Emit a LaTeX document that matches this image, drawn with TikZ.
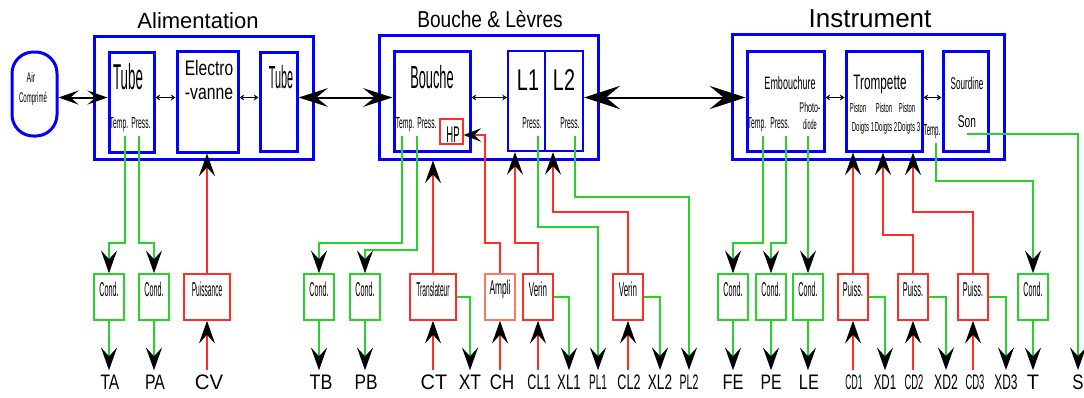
\documentclass[tikz,border=0pt]{standalone}
\usepackage{fontspec}
\setmainfont{Liberation Sans}
\usepackage{graphicx}
\usetikzlibrary{arrows.meta,fit}

\definecolor{bbox}{RGB}{0,0,255}
\definecolor{gline}{RGB}{40,210,40}
\definecolor{rline}{RGB}{255,45,35}
\definecolor{salmon}{RGB}{255,120,100}

% size, horizontal squeeze, text
\newcommand\sqz[3]{{\fontsize{#1}{#1}\selectfont\scalebox{#2}[1]{#3}}}

\tikzset{
  outerbox/.style={draw=bbox, line width=2.25pt, inner sep=0pt},
  innerbox/.style={draw=bbox, line width=2.25pt, inner sep=0pt},
  thinbox/.style={draw=bbox, line width=1.6pt, inner sep=0pt},
  gbox/.style={draw=gline, line width=1.2pt, inner sep=0pt},
  rbox/.style={draw=rline, line width=1.2pt, inner sep=0pt},
  txt/.style={anchor=base, inner sep=0pt},
  lbl/.style={anchor=base, inner sep=3pt},
  vtip/.style={-{Stealth[length=17pt,width=12pt,inset=6.5pt,color=black]}},
  htip/.style={-{Stealth[length=13pt,width=10pt,inset=5pt,color=black]}},
  gwire/.style={draw=gline, line width=1.3pt},
  rwire/.style={draw=rline, line width=1.3pt},
  tinyarrow/.style={line width=0.7pt, {Stealth[open,length=3.5pt,width=4.5pt]}-{Stealth[open,length=3.5pt,width=4.5pt]}},
  bigA/.style={line width=1.5pt, {Stealth[length=15pt,width=10.5pt,inset=6pt]}-{Stealth[length=15pt,width=10.5pt,inset=6pt]}},
  bigB/.style={line width=1.5pt, {Stealth[length=22pt,width=14pt,inset=8.5pt]}-{Stealth[length=22pt,width=14pt,inset=8.5pt]}},
  bigC/.style={line width=1.5pt, {Stealth[length=27pt,width=17.5pt,inset=10.5pt]}-{Stealth[length=27pt,width=17.5pt,inset=10.5pt]}},
}

\begin{document}
\begin{tikzpicture}[x=0.75pt,y=-0.75pt]
\fill[white] (0,0) rectangle (1084,397);
\useasboundingbox (0,0) rectangle (1084,397);
\coordinate (row) at (0,97.5);

% ---- titles
\node[txt] (tAlim) at (198,28) {\sqz{16.5pt}{1}{Alimentation}};
\node[txt] (tBouche) at (490,27) {\sqz{17.25pt}{0.83}{Bouche \& Lèvres}};
\node[txt] (tInstr) at (870,27) {\sqz{19.5pt}{1}{Instrument}};

% ---- groups
\node[outerbox, fit={(94,36) (313,159)}] (alim) {};
\node[outerbox, fit={(379,35) (598,159)}] (levres) {};
\node[outerbox, fit={(732,34) (1004,159)}] (instr) {};

% ---- Alimentation
\node[draw=bbox, line width=2.25pt, rounded corners=16pt, inner sep=0pt, fit={(12,52) (57,136)}] (air) {};
\node[txt] (airL1) at (31,82) {\sqz{10.5pt}{0.5}{Air}};
\node[txt] (airL2) at (33,102) {\sqz{10.5pt}{0.43}{Comprimé}};

\node[innerbox, fit={(109,52) (154,152)}] (tubeA) {};
\node[txt] (tubeAlbl) at (128,89) {\sqz{27pt}{0.37}{Tube}};
\node[txt] (tubeAT) at (119,128) {\sqz{12pt}{0.42}{Temp.}};
\node[txt] (tubeAP) at (141,128) {\sqz{12pt}{0.42}{Press.}};

\node[innerbox, fit={(177,51) (238,152)}] (ev) {};
\node[txt] (evL1) at (209,75) {\sqz{15.75pt}{0.74}{Electro}};
\node[txt] (evL2) at (209,99) {\sqz{15.75pt}{0.75}{-vanne}};

\node[innerbox, fit={(260,52) (297,151)}] (tubeB) {};
\node[txt] (tubeBlbl) at (281,88) {\sqz{24pt}{0.34}{Tube}};

% ---- Bouche & Lèvres
\node[innerbox, fit={(394,51) (470,151)}] (bouche) {};
\node[txt] (boucheLbl) at (432,88) {\sqz{24pt}{0.4}{Bouche}};
\node[txt] (boucheT) at (405,128) {\sqz{12pt}{0.42}{Temp.}};
\node[txt] (boucheP) at (427,128) {\sqz{12pt}{0.42}{Press.}};
\node[rbox, line width=0.9pt, fit={(440,119) (463,144)}] (hp) {};
\node[txt] (hpLbl) at (453,142) {\sqz{17pt}{0.42}{HP}};

\node[thinbox, fit={(508,51) (545,151)}] (l1) {};
\node[thinbox, fit={(545,51) (583,151)}] (l2) {};
\node[txt] (l1Lbl) at (528,90) {\sqz{22.5pt}{0.66}{L1}};
\node[txt] (l2Lbl) at (564,90) {\sqz{22.5pt}{0.66}{L2}};
\node[txt] (l1P) at (532,128) {\sqz{12pt}{0.42}{Press.}};
\node[txt] (l2P) at (570,128) {\sqz{12pt}{0.42}{Press.}};

% ---- Instrument
\node[innerbox, fit={(747,51) (824,151)}] (emb) {};
\node[txt] (embLbl) at (790,89) {\sqz{13.5pt}{0.5}{Embouchure}};
\node[txt] (embT) at (757,128) {\sqz{12pt}{0.42}{Temp.}};
\node[txt] (embP) at (780,128) {\sqz{12pt}{0.42}{Press.}};
\node[txt] (embPh1) at (810,112) {\sqz{10.5pt}{0.51}{Photo-}};
\node[txt] (embPh2) at (810,129) {\sqz{10.5pt}{0.4}{diode}};

\node[innerbox, fit={(846,51) (922,151)}] (tromp) {};
\node[txt] (trLbl) at (880,89) {\sqz{15.75pt}{0.56}{Trompette}};
\node[txt] (pis1) at (858,112) {\sqz{9.75pt}{0.45}{Piston}};
\node[txt] (pis2) at (884,112) {\sqz{9.75pt}{0.45}{Piston}};
\node[txt] (pis3) at (907,112) {\sqz{9.75pt}{0.45}{Piston}};
\node[txt] (dg1) at (863,131) {\sqz{9.75pt}{0.47}{Doigts 1}};
\node[txt] (dg2) at (886,131) {\sqz{9.75pt}{0.47}{Doigts 2}};
\node[txt] (dg3) at (909,131) {\sqz{9.75pt}{0.47}{Doigts 3}};
\node[txt] (tempS) at (932,135) {\sqz{12pt}{0.38}{Temp.}};

\node[innerbox, fit={(943,51) (988,151)}] (sourd) {};
\node[txt] (sLbl) at (967,89) {\sqz{12.75pt}{0.48}{Sourdine}};
\node[txt] (sonLbl) at (967,127) {\sqz{12.75pt}{0.6}{Son}};

% ---- links between blocks
\draw[bigA] (air.east |- row) -- (tubeA.west |- row);
\draw[tinyarrow] (tubeA.east |- row) -- (ev.west |- row);
\draw[tinyarrow] (ev.east |- row) -- (tubeB.west |- row);
\draw[bigB] (tubeB.east |- row) -- (bouche.west |- row);
\draw[tinyarrow] (bouche.east |- row) -- (l1.west |- row);
\draw[bigC] (l2.east |- row) -- (emb.west |- row);
\draw[tinyarrow] (emb.east |- row) -- (tromp.west |- row);
\draw[tinyarrow] (tromp.east |- row) -- (sourd.west |- row);

% ---- interface boxes
\node[gbox, fit={(94,274) (124,320)}] (cTA) {\sqz{15pt}{0.36}{Cond.}};
\node[gbox, fit={(139,274) (169,320)}] (cPA) {\sqz{15pt}{0.36}{Cond.}};
\node[rbox, fit={(184,274) (230,320)}] (puis) {\sqz{15pt}{0.33}{Puissance}};
\node[gbox, fit={(304,274) (334,320)}] (cTB) {\sqz{15pt}{0.36}{Cond.}};
\node[gbox, fit={(350,274) (380,320)}] (cPB) {\sqz{15pt}{0.36}{Cond.}};
\node[rbox, fit={(410,274) (456,320)}] (trans) {\sqz{15pt}{0.33}{Translateur}};
\node[rbox, draw=salmon, fit={(485,274) (515,320)}] (ampli) {\sqz{15pt}{0.42}{Ampli}};
\node[rbox, fit={(523,274) (553,320)}] (ver1) {\sqz{15pt}{0.4}{Verin}};
\node[rbox, fit={(613,274) (643,320)}] (ver2) {\sqz{15pt}{0.4}{Verin}};
\node[gbox, fit={(718,274) (748,320)}] (cFE) {\sqz{15pt}{0.36}{Cond.}};
\node[gbox, fit={(756,274) (786,320)}] (cPE) {\sqz{15pt}{0.36}{Cond.}};
\node[gbox, fit={(793,274) (823,320)}] (cLE) {\sqz{15pt}{0.36}{Cond.}};
\node[rbox, fit={(838,274) (868,320)}] (pu1) {\sqz{15pt}{0.37}{Puiss.}};
\node[rbox, fit={(898,274) (928,320)}] (pu2) {\sqz{15pt}{0.37}{Puiss.}};
\node[rbox, fit={(958,274) (988,320)}] (pu3) {\sqz{15pt}{0.37}{Puiss.}};
\node[gbox, fit={(1018,274) (1048,320)}] (cT) {\sqz{15pt}{0.36}{Cond.}};

% ---- signal names
\node[lbl] (TA) at (110,389) {\sqz{15.75pt}{0.74}{TA}};
\node[lbl] (PA) at (155,389) {\sqz{15.75pt}{0.75}{PA}};
\node[lbl] (CV) at (209,389) {\sqz{15.75pt}{0.97}{CV}};
\node[lbl] (TB) at (321,389) {\sqz{15.75pt}{0.85}{TB}};
\node[lbl] (PB) at (366,389) {\sqz{15.75pt}{0.82}{PB}};
\node[lbl] (CT) at (434,389) {\sqz{15.75pt}{0.95}{CT}};
\node[lbl] (XT) at (470,389) {\sqz{15.75pt}{0.83}{XT}};
\node[lbl] (CH) at (502,389) {\sqz{15.75pt}{0.8}{CH}};
\node[lbl] (CL1) at (539,389) {\sqz{15.75pt}{0.6}{CL1}};
\node[lbl] (XL1) at (569,389) {\sqz{15.75pt}{0.63}{XL1}};
\node[lbl] (PL1) at (598,389) {\sqz{15.75pt}{0.48}{PL1}};
\node[lbl] (CL2) at (629,389) {\sqz{15.75pt}{0.6}{CL2}};
\node[lbl] (XL2) at (660,389) {\sqz{15.75pt}{0.65}{XL2}};
\node[lbl] (PL2) at (689,389) {\sqz{15.75pt}{0.5}{PL2}};
\node[lbl] (FE) at (733,389) {\sqz{15.75pt}{0.78}{FE}};
\node[lbl] (PE) at (771,389) {\sqz{15.75pt}{0.75}{PE}};
\node[lbl] (LE) at (809,389) {\sqz{15.75pt}{0.78}{LE}};
\node[lbl] (CD1) at (854,389) {\sqz{15.75pt}{0.41}{CD1}};
\node[lbl] (XD1) at (885,389) {\sqz{15.75pt}{0.55}{XD1}};
\node[lbl] (CD2) at (914,389) {\sqz{15.75pt}{0.45}{CD2}};
\node[lbl] (XD2) at (946,389) {\sqz{15.75pt}{0.58}{XD2}};
\node[lbl] (CD3) at (975,389) {\sqz{15.75pt}{0.45}{CD3}};
\node[lbl] (XD3) at (1006,389) {\sqz{15.75pt}{0.57}{XD3}};
\node[lbl] (T) at (1033,389) {\sqz{15.75pt}{0.95}{T}};
\node[lbl] (S) at (1078,389) {\sqz{15.75pt}{0.8}{S}};

% ---- sensor taps
\coordinate (sTA) at (125,136);
\coordinate (sPA) at (139,136);
\coordinate (sTB) at (402,136);
\coordinate (sPB) at (417,136);
\coordinate (sPL1) at (538,136);
\coordinate (sPL2) at (575,136);
\coordinate (sFE) at (763,136);
\coordinate (sPE) at (786,136);
\coordinate (sLE) at (808,136);
\coordinate (sT) at (936,143);
\coordinate (sS) at (967,134);

\draw[gwire, vtip] (sTA) -- (sTA |- 0,243) -| (cTA.north);
\draw[gwire, vtip] (sPA) -- (sPA |- 0,243) -| (cPA.north);
\draw[gwire, vtip] (sTB) -- (sTB |- 0,243) -| (cTB.north);
\draw[gwire, vtip] (sPB) -- (sPB |- 0,250) -| (cPB.north);
\draw[gwire, vtip] (sPL1) -- (sPL1 |- 0,227) -| (PL1.north);
\draw[gwire, vtip] (sPL2) -- (sPL2 |- 0,197) -| (PL2.north);
\draw[gwire, vtip] (sFE) -- (sFE |- 0,243) -| (cFE.north);
\draw[gwire, vtip] (sPE) -- (sPE |- 0,243) -| (cPE.north);
\draw[gwire, vtip] (sLE) -- (sLE |- cLE.north);
\draw[gwire, vtip] (sT) -- (sT |- 0,181) -| (cT.north);
\draw[gwire, vtip] (sS) -| (S.north);

% ---- conditioner outputs
\foreach \b/\l in {cTA/TA, cPA/PA, cTB/TB, cPB/PB, cFE/FE, cPE/PE, cLE/LE, cT/T}
  \draw[gwire, vtip] (\b.south) -- (\b.south |- \l.north);

% ---- actuator position outputs
\foreach \b/\l in {trans/XT, ver1/XL1, ver2/XL2, pu1/XD1, pu2/XD2, pu3/XD3}
  \draw[gwire, vtip] (\b.east) -| (\l.north);

% ---- commands into the actuators
\foreach \b/\l in {puis/CV, trans/CT, ampli/CH, ver1/CL1, ver2/CL2, pu1/CD1, pu2/CD2, pu3/CD3}
  \draw[rwire, vtip] (\b.south |- \l.north) -- (\b.south);

% ---- actuators to the blocks
\draw[rwire, vtip] (puis.north) -- (puis.north |- ev.south);
\draw[rwire, vtip] (trans.north) -- (trans.north |- levres.south);
\draw[rwire, htip] (ampli.north) |- (485,243) -- (485,135) -- (hp.east |- 0,135);
\draw[rwire, vtip] (ver1.north) |- (515,243) -- (515,0 |- l1.south);
\draw[rwire, vtip] (ver2.north) |- (553,212) -- (553,0 |- l2.south);
\draw[rwire, vtip] (pu1.north) -- (pu1.north |- tromp.south);
\draw[rwire, vtip] (pu2.north) |- (883,235) -- (883,0 |- tromp.south);
\draw[rwire, vtip] (pu3.north) |- (913,212) -- (913,0 |- tromp.south);
\end{tikzpicture}
\end{document}
